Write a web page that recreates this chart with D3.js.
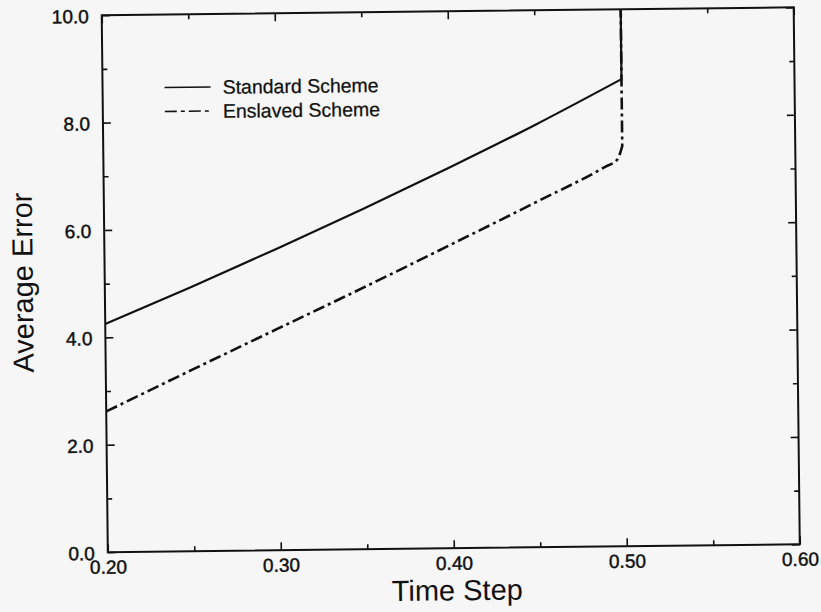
<!DOCTYPE html>
<html>
<head>
<meta charset="utf-8">
<script src="https://cdn.jsdelivr.net/npm/d3@7"></script>
<style>
  body { margin: 0; background: #f6f6f6; }
  svg { display: block; }
</style>
</head>
<body>
<div id="canvas"></div>
<script>
// values
const timeStep = [0.20, 0.25, 0.30, 0.35, 0.40, 0.45, 0.50]
const standardErr = [4.25, 4.92, 5.62, 6.34, 7.09, 7.87, 8.7]
const enslavedStep = [0.20, 0.25, 0.30, 0.35, 0.40, 0.45, 0.49, 0.497, 0.50]
const enslavedErr = [2.62, 3.38, 4.13, 4.88, 5.65, 6.43, 7.07, 7.2, 7.45]
const jumpTop = 10.0 // both curves shoot off the top at 0.50
const xTicks = [0.20, 0.30, 0.40, 0.50, 0.60]
const xMinor = [0.25, 0.35, 0.45, 0.55]
const yTicks = [0, 2, 4, 6, 8, 10]
const yMinor = [1, 3, 5, 7, 9]
const seriesNames = ['Standard Scheme', 'Enslaved Scheme']

const width = 821
const height = 612
const margin = { top: 11.25, left: 104.75, bottom: 63.75, right: 24.25 }
const iwidth = width - margin.left - margin.right
const iheight = height - margin.top - margin.bottom
const ink = '#111'

const svg = d3.select('#canvas').append('svg')
  .attr('width', width)
  .attr('height', height)
  .style('font-family', '"Liberation Sans", Arial, Helvetica, sans-serif')

// the scan is slightly tilted
const cx = margin.left + iwidth / 2
const cy = margin.top + iheight / 2
const root = svg.append('g').attr('transform', `rotate(-0.65, ${cx}, ${cy})`)

const g = root.append('g')
  .attr('transform', `translate(${margin.left},${margin.top})`)

const x = d3.scaleLinear().domain([0.2, 0.6]).range([0, iwidth])
const y = d3.scaleLinear().domain([0, 10]).range([iheight, 0])

g.append('clipPath').attr('id', 'clip')
  .append('rect').attr('width', iwidth).attr('height', iheight + 1).attr('y', -1)

// ticks on all four sides, pointing inward
const noLabel = () => ''
function drawAxis(axis, vals, size, fmt, tr) {
  const a = g.append('g')
    .attr('transform', tr)
    .call(axis.tickValues(vals).tickSize(-size).tickPadding(13).tickFormat(fmt))
  a.select('.domain').remove()
  a.selectAll('line').attr('stroke', ink).attr('stroke-width', 1.6)
  a.selectAll('text')
    .attr('fill', ink)
    .attr('stroke', ink)
    .attr('stroke-width', 0.45)
    .style('font-size', '19px')
  return a
}

drawAxis(d3.axisBottom(x), xTicks, 8, d3.format('.2f'), `translate(0,${iheight})`)
  .selectAll('text').attr('y', 21.5).attr('dy', 0)
drawAxis(d3.axisBottom(x), xMinor, 5, noLabel, `translate(0,${iheight})`)
drawAxis(d3.axisTop(x), xTicks, 8, noLabel, 'translate(0,0)')
drawAxis(d3.axisTop(x), xMinor, 5, noLabel, 'translate(0,0)')
drawAxis(d3.axisLeft(y), yTicks, 8, d3.format('.1f'), 'translate(0,0)')
  .selectAll('text').attr('dy', '0.38em')
drawAxis(d3.axisLeft(y), yMinor, 5, noLabel, 'translate(0,0)')
drawAxis(d3.axisRight(y), yTicks, 8, noLabel, `translate(${iwidth},0)`)
drawAxis(d3.axisRight(y), yMinor, 5, noLabel, `translate(${iwidth},0)`)

// frame
g.append('rect')
  .attr('width', iwidth)
  .attr('height', iheight)
  .attr('fill', 'none')
  .attr('stroke', ink)
  .attr('stroke-width', 2)

// smooth rise, then a straight vertical jump at the last time step
function curvePath(xs, ys) {
  const pts = xs.map((t, i) => [x(t), y(ys[i])])
  const smooth = d3.line().curve(d3.curveMonotoneX)(pts)
  return smooth + `L${x(xs[xs.length - 1])},${y(jumpTop)}`
}

const plot = g.append('g').attr('clip-path', 'url(#clip)')
plot.append('path')
  .attr('d', curvePath(timeStep, standardErr))
  .attr('fill', 'none')
  .attr('stroke', ink)
  .attr('stroke-width', 2.2)
plot.append('path')
  .attr('d', curvePath(enslavedStep, enslavedErr))
  .attr('fill', 'none')
  .attr('stroke', ink)
  .attr('stroke-width', 2.6)
  .attr('stroke-dasharray', '12,4,3,4')

// legend
const leg = g.append('g').attr('transform', 'translate(62,73)')
seriesNames.forEach((name, i) => {
  leg.append('line')
    .attr('x1', 0).attr('x2', 46)
    .attr('y1', i * 24).attr('y2', i * 24)
    .attr('stroke', ink)
    .attr('stroke-width', 1.6)
    .attr('stroke-dasharray', i === 1 ? '12,4,4,4' : null)
  leg.append('text')
    .attr('x', 58)
    .attr('y', i * 24 + 7)
    .attr('fill', ink)
    .attr('stroke', ink)
    .attr('stroke-width', 0.25)
    .style('font-size', '19.5px')
    .text(name)
})

// axis titles
g.append('text')
  .attr('text-anchor', 'middle')
  .attr('x', iwidth / 2 + 3)
  .attr('y', iheight + 52)
  .attr('fill', ink)
  .style('font-size', '29px')
  .text('Time Step')

g.append('text')
  .attr('text-anchor', 'middle')
  .attr('transform', 'rotate(-90)')
  .attr('x', -iheight / 2 + 2)
  .attr('y', -72)
  .attr('fill', ink)
  .style('font-size', '29px')
  .text('Average Error')
</script>
</body>
</html>
